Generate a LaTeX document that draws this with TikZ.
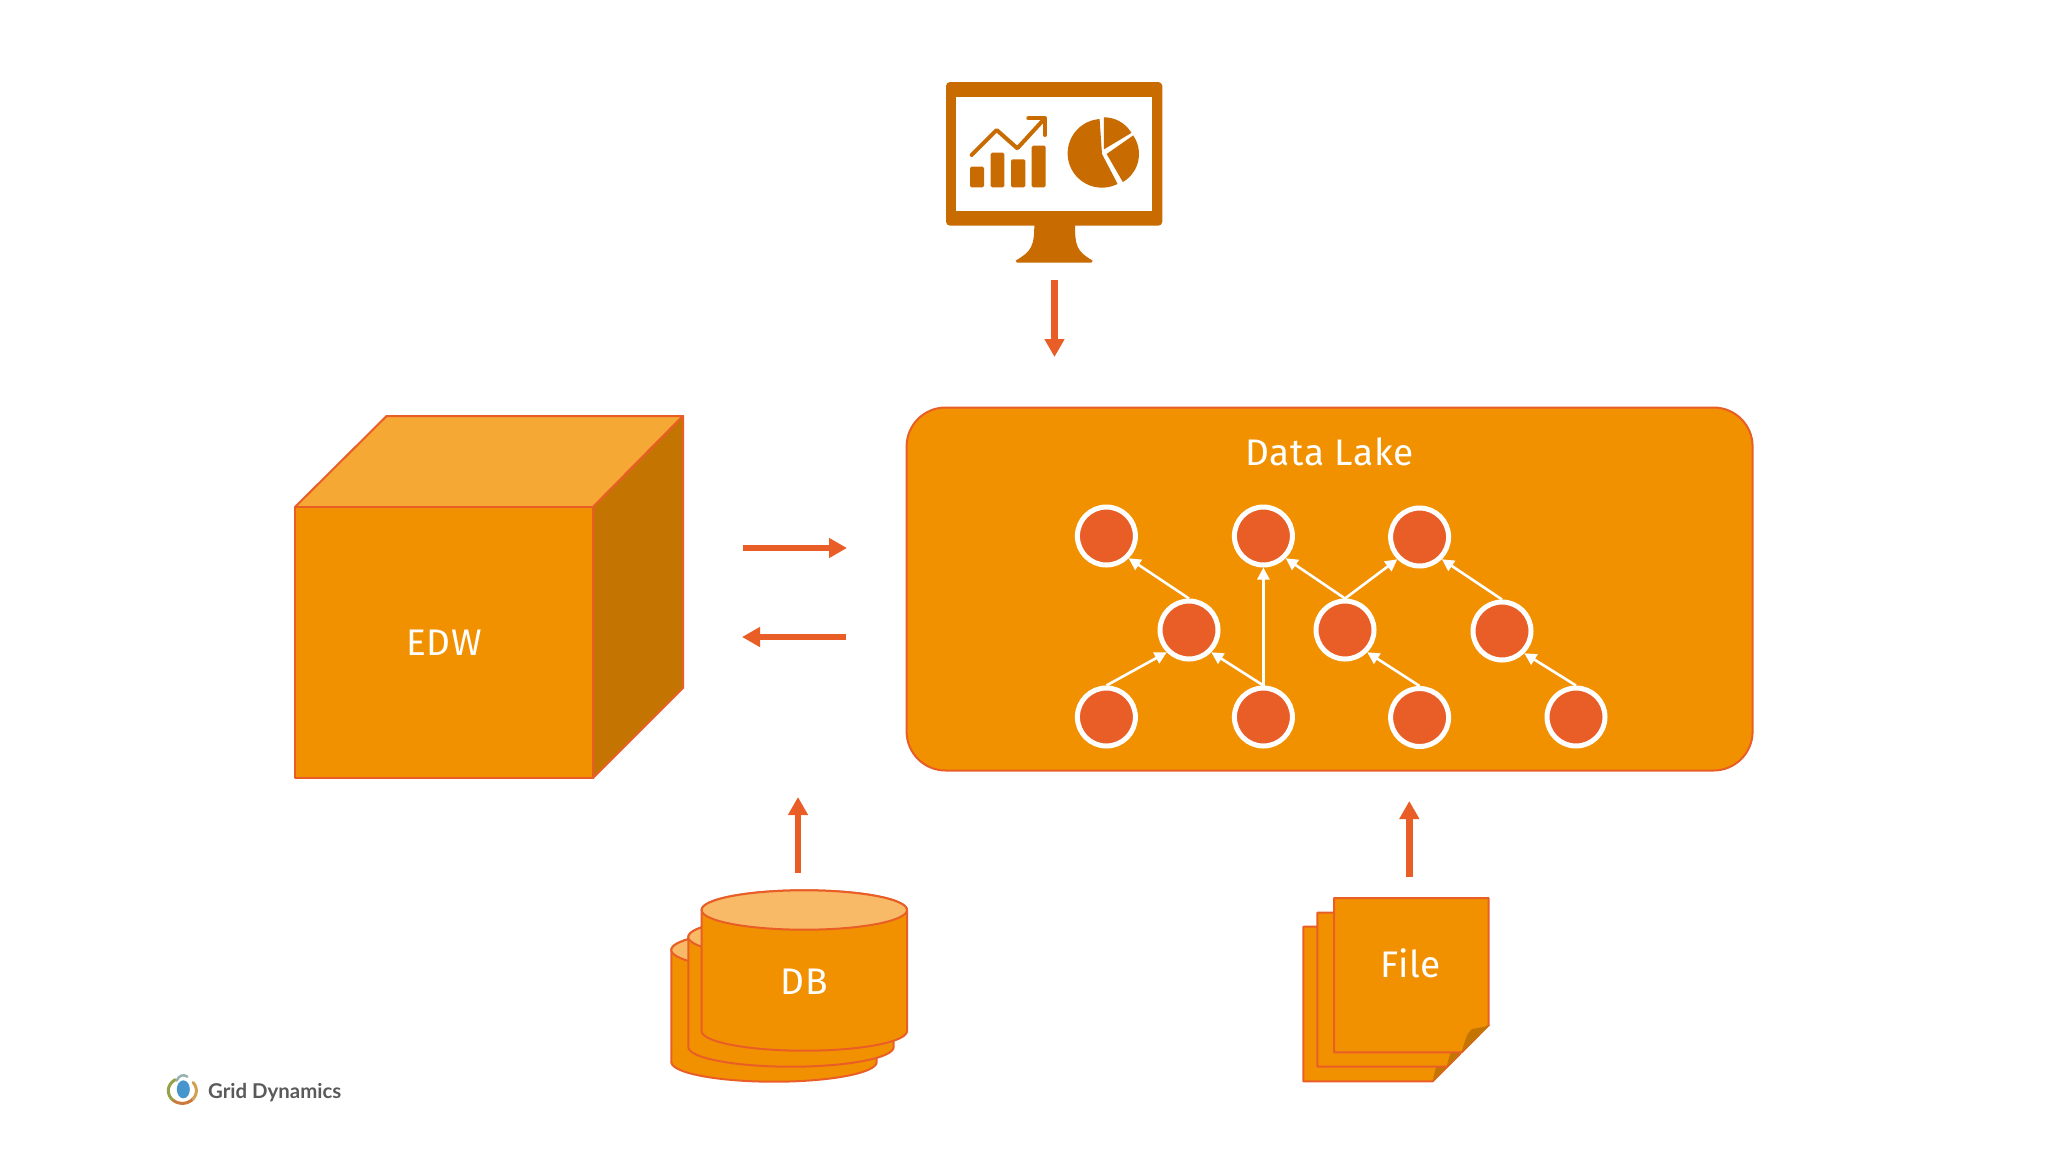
\documentclass[tikz,border=0pt]{standalone}
\usepackage{fontspec}
\setmainfont{Lato}
\newfontfamily\labfont{Fira Sans}[LetterSpace=2]
\usetikzlibrary{arrows.meta}
\definecolor{org}{HTML}{F29100}
\definecolor{edge}{HTML}{E95E27}
\definecolor{ltop}{HTML}{F5A833}
\definecolor{dside}{HTML}{C47400}
\definecolor{mon}{HTML}{C86B00}
\definecolor{dbtop}{HTML}{F8BA66}
\definecolor{gray}{HTML}{5A5A5A}
\tikzset{
  x=1pt,y=-1pt,
  shape outline/.style={draw=edge,line width=2pt,line join=round},
  face/.style={shape outline,fill=org},
  flow/.style={draw=edge,line width=6.5pt,-{Triangle[length=18pt,width=19pt]}},
  vertex/.style={circle,draw=white,fill=edge,line width=5pt,minimum size=58pt,inner sep=0pt},
  dep/.style={draw=white,line width=2.6pt,-{Triangle[length=12pt,width=12pt]}},
  label/.style={text=white,inner sep=0pt,font=\labfont\fontsize{37}{40}\selectfont},
}
\newcommand{\dbcyl}[3]{%
  \filldraw[face] plot[domain=180:360,samples=41,smooth] ({#1+102.7*cos(\x)},{#3-19.7*sin(\x)})
     -- plot[domain=0:180,samples=41,smooth] ({#1+102.7*cos(\x)},{#2-19.7*sin(\x)}) -- cycle;
  \filldraw[shape outline,fill=dbtop] (#1,#2) ellipse [x radius=102.7pt,y radius=19.7pt];
}
\begin{document}
\begin{tikzpicture}
\useasboundingbox (0,0) rectangle (2048,1152);
\fill[white] (0,0) rectangle (2048,1152);

% monitor
\begin{scope}[shift={(900,50)},x=0.3333pt,y=-0.3333pt]
  \fill[mon,rounded corners=4pt] (138,96) rectangle (787,527);
  \fill[white] (168,140) rectangle (757,482);
  \fill[mon] (403,520) .. controls (403,590) and (395,603) .. (347,632) -- (351,638) -- (574,638) -- (578,632)
     .. controls (530,603) and (525,590) .. (525,520) -- cycle;
  \fill[mon,rounded corners=1.5pt] (210,350) rectangle (252,412);
  \fill[mon,rounded corners=1.5pt] (272,308) rectangle (313,412);
  \fill[mon,rounded corners=1.5pt] (333,328) rectangle (376,412);
  \fill[mon,rounded corners=1.5pt] (395,287) rectangle (437,412);
  \draw[mon,line width=4pt,line cap=round,line join=round] (215,315) -- (290,240) -- (352,295) -- (430,210);
  \draw[mon,line width=4pt,line cap=round,line join=round] (385,205) -- (435,205) -- (435,255);
  \fill[mon] (606,312) -- plot[domain=94:297,samples=50,smooth] ({606+103*cos(\x)},{310-103*sin(\x)}) -- cycle;
  \fill[mon] (612,298) -- plot[domain=31:90,samples=25,smooth] ({612+96*cos(\x)},{298-96*sin(\x)}) -- cycle;
  \fill[mon] (620,312) -- plot[domain=-60:35,samples=25,smooth] ({620+97*cos(\x)},{312-97*sin(\x)}) -- cycle;
\end{scope}

% EDW cube
\filldraw[shape outline,fill=ltop] (295,507) -- (386.6,416) -- (683,416) -- (593,507) -- cycle;
\filldraw[shape outline,fill=dside] (593,507) -- (683,416) -- (683,688) -- (593,778) -- cycle;
\filldraw[face] (295,507) rectangle (593,778);
\node[label] (edw) at (444,643) {EDW};

% data lake
\node[face,rounded corners=39pt,minimum width=846pt,minimum height=363pt,inner sep=0pt] (lake) at (1329.6,589) {};
\node[label] (lakelabel) at (1329.6,451.5) {Data Lake};

\node[vertex] (t1) at (1106.4,536) {};
\node[vertex] (t2) at (1263.4,536) {};
\node[vertex] (t3) at (1419.6,537) {};
\node[vertex] (m1) at (1189,630) {};
\node[vertex] (m2) at (1345,630) {};
\node[vertex] (m3) at (1502,631) {};
\node[vertex] (b1) at (1106.4,717) {};
\node[vertex] (b2) at (1263.4,717) {};
\node[vertex] (b3) at (1419.6,717.5) {};
\node[vertex] (b4) at (1576,717) {};
\draw[dep] (m1.north) -- (t1.south east);
\draw[dep] (b2.north) -- (t2.south);
\draw[dep] (m2.north) -- (t2.south east);
\draw[dep] (m2.north) -- (t3.south west);
\draw[dep] (m3.north) -- (t3.south east);
\draw[dep] (b1.north) -- (m1.south west);
\draw[dep] (b2.north) -- (m1.south east);
\draw[dep] (b3.north) -- (m2.south east);
\draw[dep] (b4.north) -- (m3.south east);

% flow arrows
\coordinate (monout) at (1054.5,280);
\coordinate (lakein) at (1054.5,357);
\coordinate (edwout) at (743,548);
\coordinate (lakein2) at (847,548);
\coordinate (lakeout) at (846,637);
\coordinate (edwin) at (742,637);
\coordinate (dbout) at (798,873);
\coordinate (dbin) at (798,797);
\coordinate (fileout) at (1409.3,877);
\coordinate (filein) at (1409.3,801);
\draw[flow] (monout) -- (lakein);
\draw[flow] (edwout) -- (lakein2);
\draw[flow] (lakeout) -- (edwin);
\draw[flow] (dbout) -- (dbin);
\draw[flow] (fileout) -- (filein);

% DB
\dbcyl{774}{950}{1062}
\dbcyl{791}{937}{1047}
\dbcyl{804.3}{910}{1031}
\node[label] (db) at (804.5,982) {DB};

% File stack
\filldraw[face] (1303.3,926.7) -- (1400,926.7) -- (1460,1054) -- (1432.7,1081.3) -- (1303.3,1081.3) -- cycle;
\fill[dside] (1432.7,1081.3) .. controls (1435,1070) and (1437,1062) .. (1441,1055) -- (1460,1053) -- cycle;
\filldraw[face] (1317.3,912.7) -- (1420,912.7) -- (1475,1038) -- (1446.7,1066.7) -- (1317.3,1066.7) -- cycle;
\fill[dside] (1446.7,1066.7) .. controls (1449,1056) and (1452,1048) .. (1456,1042) -- (1475,1039) -- cycle;
\filldraw[face] (1334,898) -- (1488.7,898) -- (1488.7,1025) -- (1461.7,1052.3) -- (1334,1052.3) -- cycle;
\fill[dside] (1461.7,1052.3) .. controls (1465,1040) and (1467,1033) .. (1472,1029) .. controls (1478,1028) and (1484,1027) .. (1490,1025) -- cycle;
\node[label] (file) at (1410.6,963) {File};

% logo
\begin{scope}[shift={(150,1060)},x=0.3333pt,y=-0.3333pt]
  \draw[color={rgb,255:red,150;green,160;blue,70},line width=3pt,line cap=round] plot[domain=120:235,samples=20,smooth] ({97+42*cos(\x)},{92-38*sin(\x)});
  \draw[color={rgb,255:red,205;green,120;blue,60},line width=3pt,line cap=round] plot[domain=235:320,samples=15,smooth] ({97+42*cos(\x)},{92-38*sin(\x)});
  \draw[color={rgb,255:red,210;green,160;blue,80},line width=3pt,line cap=round] plot[domain=320:400,samples=15,smooth] ({97+42*cos(\x)},{92-38*sin(\x)});
  \fill[color={rgb,255:red,70;green,150;blue,205}] (100,88) ellipse [x radius=6.5pt,y radius=9pt];
  \draw[color={rgb,255:red,150;green,175;blue,175},line width=2.4pt,line cap=round] (80,62) .. controls (85,48) and (100,40) .. (112,50);
\end{scope}
\node[text=gray,inner sep=0pt,anchor=west,font=\fontsize{20.4}{24}\bfseries\selectfont] (brand) at (208,1092.5) {Grid Dynamics};
\end{tikzpicture}
\end{document}
